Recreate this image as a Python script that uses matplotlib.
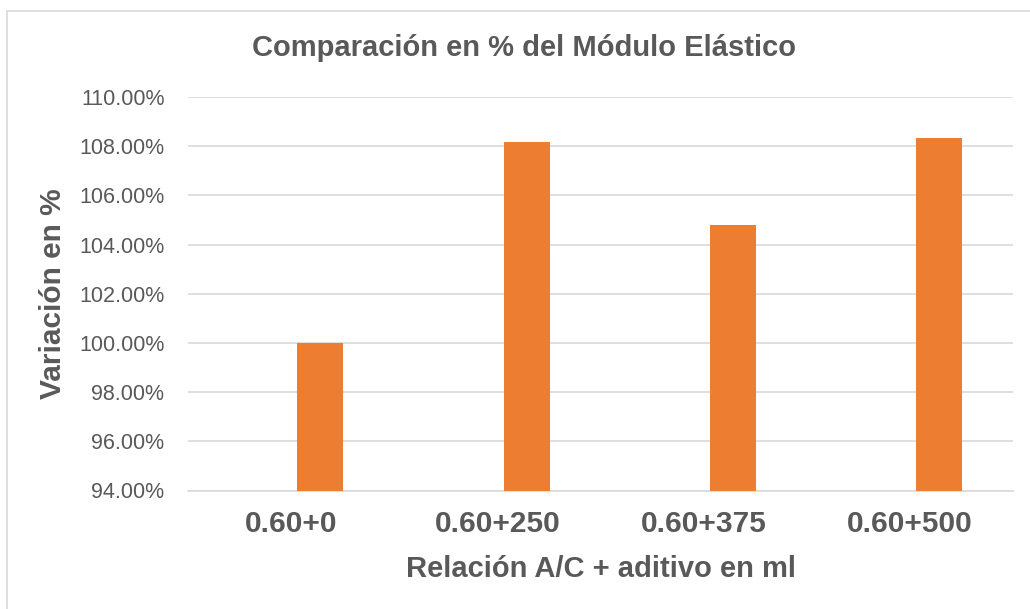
import matplotlib
matplotlib.use("Agg")
import matplotlib.pyplot as plt
from matplotlib.patches import Rectangle
from matplotlib.ticker import FuncFormatter, MultipleLocator

plt.rcParams['font.family'] = ['Liberation Sans', 'DejaVu Sans']

categories = ["0.60+0", "0.60+250", "0.60+375", "0.60+500"]
variacion = [100.00, 108.15, 104.79, 108.34]  # % relative to the reference mix

TEXT = "#595959"
GRID = "#D9D9D9"
BAR = "#ED7D31"

fig = plt.figure(figsize=(10.30, 6.09), dpi=100)
fig.patch.set_facecolor("white")

# chart-area border
fig.add_artist(Rectangle((7 / 1030, -0.01), 1.1, 1 - 11 / 609 + 0.01,
                         transform=fig.transFigure, fill=False,
                         edgecolor=GRID, linewidth=1.2))

ax = fig.add_axes([188 / 1030, 1 - 490.5 / 609, (1013 - 188) / 1030, (490.5 - 97) / 609])

x = range(len(categories))
offset = 0.142
ax.bar([i + offset for i in x], [v - 94 for v in variacion], bottom=94,
       width=0.223, color=BAR, zorder=3)

ax.set_xlim(-0.5, len(categories) - 0.5)
ax.set_ylim(94, 110)
ax.yaxis.set_major_locator(MultipleLocator(2))
ax.yaxis.set_major_formatter(FuncFormatter(lambda v, p: f"{v:.2f}%"))
ax.set_xticks(list(x))
ax.set_xticklabels(categories, fontsize=21.5, fontweight="bold", color=TEXT)
ax.tick_params(axis="y", length=0, pad=17, labelsize=15.5, labelcolor=TEXT)
ax.tick_params(axis="x", length=0, pad=14)

ax.grid(axis="y", color=GRID, linewidth=1.2, zorder=0)
for s in ["top", "right", "left"]:
    ax.spines[s].set_visible(False)
ax.spines["bottom"].set_color(GRID)
ax.spines["bottom"].set_linewidth(1.2)

ax.set_xlabel("Relación A/C + aditivo en ml", fontsize=21, fontweight="bold",
              color=TEXT, labelpad=12)
ax.set_ylabel("Variación en %", fontsize=21.5, fontweight="bold", color=TEXT,
              labelpad=9)

fig.text(524 / 1030, 1 - 48 / 609, "Comparación en % del Módulo Elástico",
         ha="center", va="center", fontsize=21, fontweight="bold", color=TEXT)

fig.savefig("out.png", dpi=100, facecolor="white")
